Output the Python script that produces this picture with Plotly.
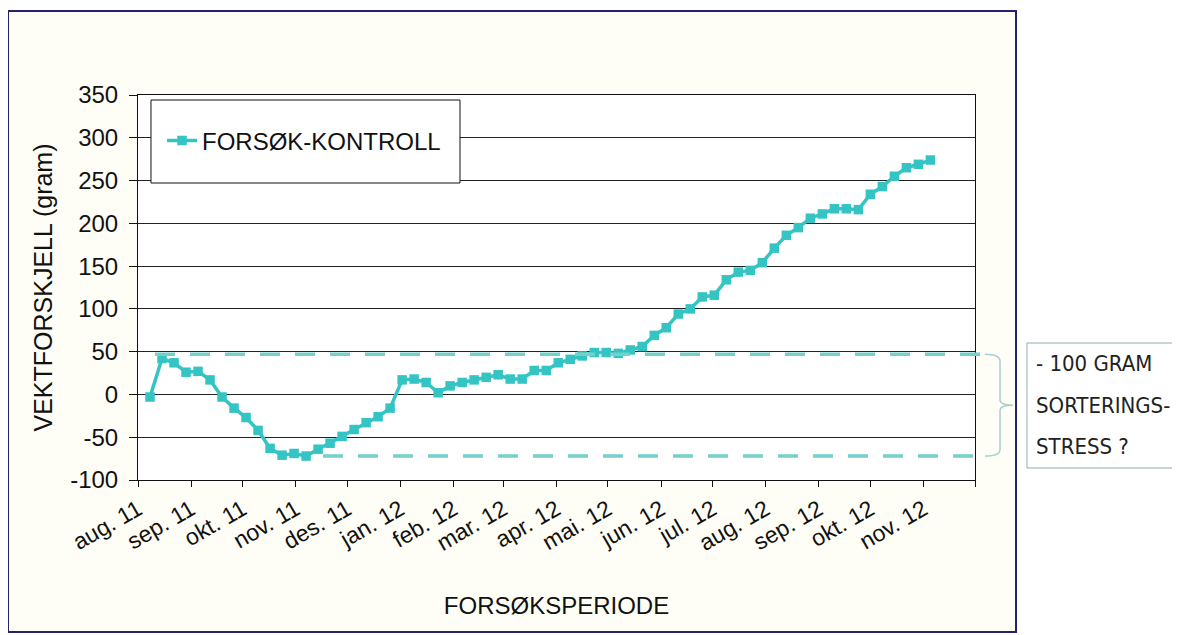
import pandas as pd
import plotly.graph_objects as go

# weekly measurements, difference forsøk - kontroll (gram)
start_date = "2011-08-08"
diff_gram = [
    -3, 42, 37, 26, 27, 17, -3, -16, -27, -42,
    -63, -71, -69, -72, -64, -57, -49, -41, -33, -26,
    -16, 17, 18, 14, 2, 10, 14, 17, 20, 23,
    18, 18, 28, 28, 37, 41, 45, 49, 49, 48,
    52, 56, 69, 78, 94, 100, 114, 116, 134, 143,
    145, 154, 171, 186, 195, 206, 211, 217, 217, 216,
    234, 243, 255, 265, 269, 274,
]
dates = pd.date_range(start_date, periods=len(diff_gram), freq="7D")

month_ticks = pd.date_range("2011-08-01", "2012-12-01", freq="MS")
month_labels = [
    "aug. 11", "sep. 11", "okt. 11", "nov. 11", "des. 11", "jan. 12",
    "feb. 12", "mar. 12", "apr. 12", "mai. 12", "jun. 12", "jul. 12",
    "aug. 12", "sep. 12", "okt. 12", "nov. 12", "",
]
y_ticks = [-100, -50, 0, 50, 100, 150, 200, 250, 300, 350]
y_labels = [str(v) for v in y_ticks]  # plain hyphen minus, like the original

band_upper = 47
band_lower = -72
note_lines = ["- 100 GRAM", "SORTERINGS-", "STRESS ?"]

FONT = "Liberation Sans, Arial, sans-serif"
NARROW = "Liberation Sans Narrow, Arial Narrow, DejaVu Sans Condensed, sans-serif"
TEAL = "#35c4c4"
DASH = "#74d0cb"
BRACKET = "#a9cfd0"

fig = go.Figure()
fig.add_trace(go.Scatter(
    x=dates, y=diff_gram,
    mode="lines+markers",
    name="FORSØK-KONTROLL",
    line=dict(color=TEAL, width=3.5),
    marker=dict(symbol="square", size=9.5, color=TEAL),
))

mid = (band_upper + band_lower) / 2
shapes = [
    # outer chart frame (cream) and white plot area
    dict(type="rect", xref="paper", yref="paper", x0=-0.1553, x1=1.049, y0=-0.3948, y1=1.218,
         line=dict(color="#23236b", width=2), fillcolor="#fffef6", layer="below"),
    dict(type="rect", xref="paper", yref="paper", x0=0, x1=1, y0=0, y1=1,
         line=dict(width=0), fillcolor="white", layer="below"),
    # dashed band lines
    dict(type="line", xref="paper", yref="y", x0=0.0203, x1=1.0084, y0=band_upper, y1=band_upper,
         line=dict(color=DASH, width=3.5, dash="20px,15px")),
    dict(type="line", xref="paper", yref="y", x0=0.221, x1=1.0084, y0=band_lower, y1=band_lower,
         line=dict(color=DASH, width=3.5, dash="20px,15px")),
    # curly bracket
    dict(type="path", xref="paper", yref="y",
         path=(f"M 1.0119,{band_upper} Q 1.0299,{band_upper} 1.0299,{band_upper - 8} "
               f"L 1.0299,{mid + 6} Q 1.0299,{mid} 1.0454,{mid} "
               f"Q 1.0299,{mid} 1.0299,{mid - 6} "
               f"L 1.0299,{band_lower + 8} Q 1.0299,{band_lower} 1.0119,{band_lower}"),
         line=dict(color=BRACKET, width=1.5)),
    # note box
    dict(type="rect", xref="paper", yref="paper", x0=1.0621, x1=1.2473, y0=0.0312, y1=0.3558,
         line=dict(color="#93aeb2", width=1), fillcolor="white"),
    # legend box
    dict(type="rect", xref="paper", yref="paper", x0=0.0155, x1=0.3847, y0=0.7714, y1=0.987,
         line=dict(color="#111", width=1), fillcolor="white", layer="above"),
]

annotations = []
for i, line in enumerate(note_lines):
    annotations.append(dict(
        text=line, xref="paper", yref="paper", x=1.0704, y=0.3013 - i * 0.1075,
        xanchor="left", yanchor="middle", showarrow=False,
        font=dict(family=NARROW, size=22, color="#222"),
    ))

fig.update_layout(
    width=1180, height=635,
    # page body adds an 8px offset, margins compensate for it
    margin=dict(l=130, r=213, t=87, b=163),
    paper_bgcolor="white",
    plot_bgcolor="white",
    font=dict(family=FONT, color="#111"),
    shapes=shapes,
    annotations=annotations,
    showlegend=True,
    legend=dict(
        x=0.0287, y=0.8805, xanchor="left", yanchor="middle",
        bgcolor="rgba(0,0,0,0)", borderwidth=0,
        font=dict(family=FONT, size=24, color="#111"),
    ),
    xaxis=dict(
        type="date",
        range=[month_ticks[0], month_ticks[-1]],
        tickmode="array", tickvals=month_ticks, ticktext=month_labels,
        tickangle=-30, tickfont=dict(size=23),
        ticks="outside", ticklen=6, tickcolor="#111",
        showgrid=False, showline=True, linecolor="#111", linewidth=1, mirror=True,
        title=dict(text="FORSØKSPERIODE", font=dict(size=24), standoff=42),
    ),
    yaxis=dict(
        range=[-100, 350],
        tickmode="array", tickvals=y_ticks, ticktext=y_labels,
        tickfont=dict(size=24), ticklabelstandoff=6,
        ticks="outside", ticklen=8, tickcolor="#111",
        showgrid=True, gridcolor="#222", gridwidth=1, zeroline=False,
        showline=True, linecolor="#111", linewidth=1, mirror=True,
        title=dict(text="VEKTFORSKJELL (gram)", font=dict(size=25), standoff=10),
    ),
)

fig.write_html("out.html")
